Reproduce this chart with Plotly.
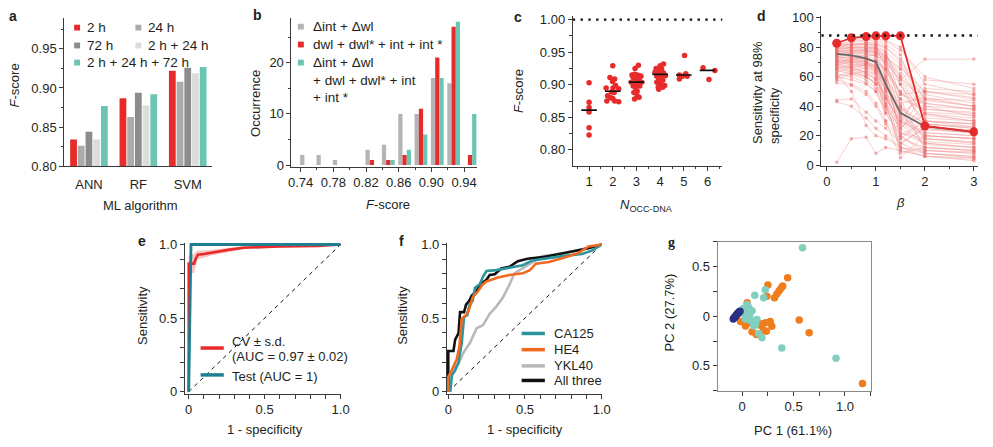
import plotly.graph_objects as go

W, H = 993, 447
FONT = "Liberation Sans, Arial, Helvetica, sans-serif"
SERIF = "Liberation Serif, Times New Roman, serif"
TXT = "#231f20"
AX = "#3a3a3a"

# ---------------- data ----------------
# a: F-score per ML algorithm and time point
algorithms = ["ANN", "RF", "SVM"]
a_names = ["2 h", "24 h", "72 h", "2 h + 24 h", "2 h + 24 h + 72 h"]
a_2h = [0.834, 0.887, 0.922]
a_24h = [0.826, 0.863, 0.908]
a_72h = [0.844, 0.894, 0.926]
a_2h_24h = [0.834, 0.878, 0.919]
a_all = [0.877, 0.892, 0.927]

# b: histogram of F-scores
b_bins = [0.74, 0.76, 0.78, 0.80, 0.82, 0.84, 0.86, 0.88, 0.90, 0.92, 0.94]
b_names = ["Δint + Δwl", "dwl + dwl* + int + int *",
           "Δint + Δwl<br>+ dwl + dwl* + int<br>+ int *"]
b_delta = [2, 2, 1, 0, 3, 4, 10, 10, 17, 16, 0]
b_raw = [0, 0, 0, 0, 1, 1, 2, 11, 21, 27, 2]
b_both = [0, 0, 0, 0, 0, 1, 3, 6, 17, 28, 10]

# c: F-score vs number of OCC-DNA
c_x = [1.0, 1.0, 1.0, 1.0, 1.0, 1.0,
       2.0, 1.88, 2.08, 1.99, 2.12, 1.72, 2.01, 2.25, 1.94, 2.06, 1.78, 1.75, 2.0, 2.08, 2.25, 1.92,
       3.08, 2.94, 2.81, 2.92, 3.03, 3.14, 3.19, 2.86, 3.0, 3.11, 2.78, 3.22, 2.94, 3.06, 2.86, 3.14,
       2.97, 3.03, 2.89, 3.03, 2.92, 3.11,
       4.14, 4.0, 3.83, 4.06, 3.92, 3.78, 4.14, 3.97, 4.22, 3.86, 4.06, 3.94, 4.11, 3.86, 4.03, 4.19,
       3.92, 4.11, 3.94,
       5.03, 4.81, 4.81, 5.08, 5.14, 4.94,
       5.81, 6.31, 6.06]
c_y = [0.903, 0.873, 0.865, 0.858, 0.834, 0.823,
       0.929, 0.911, 0.909, 0.905, 0.899, 0.895, 0.895, 0.894, 0.889, 0.888, 0.883, 0.875, 0.879,
       0.875, 0.874, 0.880,
       0.930, 0.925, 0.915, 0.916, 0.915, 0.914, 0.913, 0.911, 0.909, 0.907, 0.904, 0.904, 0.903,
       0.900, 0.898, 0.898, 0.895, 0.890, 0.888, 0.883, 0.878, 0.881,
       0.932, 0.929, 0.925, 0.924, 0.921, 0.919, 0.918, 0.915, 0.914, 0.913, 0.911, 0.909, 0.907,
       0.904, 0.901, 0.899, 0.896, 0.896, 0.893,
       0.945, 0.915, 0.909, 0.917, 0.913, 0.913,
       0.926, 0.922, 0.908]
c_groups = [1, 2, 3, 4, 5, 6]
c_median = [0.861, 0.890, 0.904, 0.916, 0.915, 0.922]
c_ref = 1.0

# d: sensitivity at 98% specificity vs beta
d_beta = [0.2, 0.5, 0.8, 1.0, 1.2, 1.5, 2, 3]
d_runs = [
    [75, 74, 72, 70, 60, 40, 25, 22], [80, 82, 83, 84, 80, 70, 45, 40],
    [70, 68, 65, 60, 45, 30, 20, 18], [65, 63, 60, 55, 40, 25, 15, 12],
    [78, 78, 77, 76, 72, 55, 35, 30], [72, 70, 68, 64, 52, 35, 22, 20],
    [60, 58, 55, 50, 35, 20, 10, 8], [82, 84, 85, 86, 85, 80, 55, 48],
    [68, 66, 62, 58, 48, 32, 18, 15], [76, 75, 73, 70, 65, 50, 30, 28],
    [44, 45, 36, 30, 25, 15, 8, 5], [2, 18, 19, 8, 12, 10, 6, 4],
    [62, 50, 27, 20, 18, 12, 10, 8], [74, 72, 70, 68, 58, 45, 38, 35],
    [79, 80, 80, 79, 75, 62, 40, 33], [58, 55, 50, 42, 30, 18, 12, 10],
    [70, 72, 74, 75, 70, 58, 72, 72], [73, 71, 69, 66, 55, 38, 28, 25],
    [77, 77, 76, 74, 68, 48, 50, 45], [66, 64, 60, 55, 42, 28, 58, 55],
    [80, 80, 79, 78, 72, 60, 42, 38], [71, 70, 67, 63, 50, 33, 20, 18],
    [64, 62, 58, 52, 38, 22, 15, 12], [43, 40, 32, 25, 20, 12, 6, 3],
    [75, 76, 76, 75, 70, 58, 32, 30], [69, 67, 63, 58, 45, 30, 52, 50],
    [81, 82, 82, 82, 80, 72, 48, 42], [62, 60, 56, 50, 36, 20, 8, 6],
    [78, 76, 74, 72, 65, 50, 35, 32], [67, 65, 61, 55, 40, 25, 40, 38],
    [73, 73, 72, 71, 66, 55, 28, 26], [76, 74, 71, 67, 55, 40, 18, 16],
    [56, 54, 48, 40, 28, 15, 25, 22], [70, 69, 66, 62, 52, 38, 12, 10],
    [82, 83, 84, 85, 82, 75, 30, 28], [74, 73, 70, 66, 54, 36, 45, 44],
    [60, 62, 60, 56, 46, 30, 22, 20], [79, 79, 78, 77, 73, 65, 38, 36],
    [68, 66, 63, 59, 47, 28, 14, 12], [77, 78, 78, 78, 74, 66, 50, 48],
    [84, 85, 86, 86, 84, 78, 60, 52], [72, 74, 75, 74, 60, 22, 18, 15],
    [66, 68, 69, 68, 50, 12, 8, 6], [78, 80, 81, 80, 66, 18, 30, 28],
    [60, 64, 66, 65, 45, 8, 12, 10], [74, 76, 77, 77, 70, 42, 46, 40],
    [70, 71, 70, 66, 30, 5, 20, 18], [80, 81, 82, 82, 76, 55, 24, 22],
    [63, 66, 68, 67, 56, 26, 34, 30], [76, 77, 78, 76, 62, 30, 16, 14],
    [68, 70, 71, 70, 64, 48, 42, 38], [82, 82, 83, 83, 78, 45, 10, 9],
    [58, 62, 64, 62, 40, 14, 26, 24], [75, 77, 79, 80, 74, 60, 36, 34],
    [71, 72, 72, 70, 58, 24, 50, 46], [79, 80, 80, 79, 68, 34, 20, 18],
    [65, 67, 68, 66, 52, 20, 30, 26], [77, 79, 80, 80, 77, 68, 44, 40],
    [69, 70, 69, 64, 42, 10, 6, 5], [81, 82, 82, 81, 72, 40, 28, 25],
]
d_mean = [75.5, 74.5, 72.5, 70, 55, 35.5, 26.3, 22.6]
d_best = [82.8, 86.5, 87.3, 87.8, 87.8, 87.8, 26.6, 22.6]
d_ref = 88

# e: ROC, cross-validation and test
e_fpr = [0, 0.0, 0.01, 0.035, 0.045, 0.06, 0.1, 0.15, 0.2, 0.27, 0.36, 0.45, 0.6, 0.85, 1.0]
e_tpr = [0, 0.87, 0.87, 0.87, 0.90, 0.93, 0.935, 0.945, 0.955, 0.965, 0.978, 0.983, 0.987, 0.99, 1.0]
e_sd = [0, 0.05, 0.06, 0.065, 0.05, 0.03, 0.025, 0.02, 0.018, 0.015, 0.01, 0.008, 0.006, 0.005, 0]
e_test_fpr = [0, 0.015, 1.0]
e_test_tpr = [0, 1.0, 1.0]
e_names = ["CV ± s.d.<br>(AUC = 0.97 ± 0.02)", "Test (AUC = 1)"]

# f: ROC of individual biomarkers
f_names = ["CA125", "HE4", "YKL40", "All three"]
f_ca125_x = [0.013, 0.024, 0.045, 0.067, 0.088, 0.103, 0.124, 0.137, 0.159, 0.174, 0.206, 0.227,
             0.249, 0.313, 0.399, 0.485, 0.549, 0.614, 0.742, 0.871, 0.936, 1.0]
f_ca125_y = [0.0, 0.112, 0.145, 0.200, 0.332, 0.508, 0.519, 0.585, 0.618, 0.705, 0.732, 0.782,
             0.820, 0.826, 0.842, 0.859, 0.892, 0.903, 0.921, 0.936, 0.958, 1.0]
f_he4_x = [0.0, 0.0, 0.017, 0.034, 0.056, 0.073, 0.088, 0.116, 0.137, 0.159, 0.195, 0.223, 0.249,
           0.324, 0.399, 0.485, 0.532, 0.571, 0.657, 0.764, 0.850, 0.914, 1.0]
f_he4_y = [0.0, 0.101, 0.134, 0.178, 0.222, 0.310, 0.497, 0.519, 0.563, 0.640, 0.684, 0.727, 0.749,
           0.776, 0.793, 0.804, 0.826, 0.870, 0.881, 0.914, 0.943, 0.987, 1.0]
f_ykl40_x = [0.0, 0.009, 0.034, 0.067, 0.099, 0.142, 0.185, 0.227, 0.270, 0.313, 0.356, 0.399,
             0.431, 0.485, 0.549, 0.614, 0.742, 0.871, 1.0]
f_ykl40_y = [0.0, 0.090, 0.156, 0.189, 0.266, 0.332, 0.431, 0.453, 0.530, 0.578, 0.640, 0.727,
             0.804, 0.837, 0.881, 0.921, 0.936, 0.969, 1.0]
f_all_x = [0.0, 0.0, 0.034, 0.045, 0.067, 0.077, 0.103, 0.116, 0.137, 0.152, 0.185, 0.206, 0.249,
           0.270, 0.303, 0.345, 0.399, 0.453, 0.517, 0.614, 0.721, 0.828, 0.914, 1.0]
f_all_y = [0.0, 0.277, 0.277, 0.354, 0.398, 0.541, 0.541, 0.591, 0.618, 0.651, 0.684, 0.727, 0.760,
           0.793, 0.798, 0.837, 0.848, 0.886, 0.903, 0.914, 0.936, 0.958, 0.974, 1.0]

# g: PCA scores
g_teal_x = [0.587, 0.224, 0.122, 0.208, 0.048, 0.064, 0.096, 0.016, 0.032, 0.080, 0.128, 0.144,
            0.112, 0.160, 0.192, 0.385, 0.913, 0.048, 0.074, 0.010]
g_teal_y = [0.690, 0.267, 0.212, 0.186, 0.120, 0.088, 0.055, 0.023, -0.026, -0.042, -0.085, -0.033,
            -0.098, -0.173, -0.215, -0.319, -0.423, 0.046, 0.007, 0.078]
g_orange_x = [0.442, 0.394, 0.378, 0.359, 0.337, 0.314, 0.250, 0.240, 0.048, 0.554, 0.651, 1.170,
              0.192, 0.224, 0.272, 0.288, 0.208, 0.234, 0.096, 0.138, 0.032, -0.016, 0.176, 0.074]
g_orange_y = [0.388, 0.306, 0.283, 0.257, 0.225, 0.186, 0.316, 0.202, 0.137, -0.036, -0.166, -0.678,
              -0.075, -0.065, -0.052, -0.101, -0.140, -0.150, -0.156, -0.182, -0.098, -0.052, -0.091,
              -0.065]
g_navy_x = [-0.087, -0.080, -0.074, -0.067, -0.061, -0.054, -0.048, -0.041, -0.035, -0.028, -0.022]
g_navy_y = [-0.026, -0.018, -0.010, -0.002, 0.006, 0.015, 0.023, 0.031, 0.039, 0.045, 0.052]

# ---------------- styles ----------------
RED = "#e62b2a"
TEAL = "#6cc5b3"
a_colors = [RED, "#acacac", "#8c8c8c", "#dcdcdc", TEAL]
b_colors = ["#b4b4b4", RED, TEAL]
f_colors = ["#2a959c", "#f26a21", "#b9b9b9", "#111111"]
TEST = "#1f7f90"


def X(p):
    return p / W


def Y(p):
    return 1 - p / H


def dx(a, b):
    return [X(a), X(b)]


def dy(top, bot):
    return [Y(bot), Y(top)]


def axis(dom, rng, anchor, **kw):
    d = dict(domain=dom, range=rng, anchor=anchor, showline=True, linecolor=AX, linewidth=1,
             ticks="outside", ticklen=4, tickwidth=1, tickcolor=AX, showgrid=False,
             zeroline=False, tickfont=dict(family=FONT, size=13, color=TXT), fixedrange=True)
    d.update(kw)
    return d


def minor(dt, t0=0, ln=2.5):
    return dict(ticks="outside", ticklen=ln, tickwidth=1, tickcolor=AX, dtick=dt, tick0=t0)


fig = go.Figure()

# ---- a
for name, vals, col in zip(a_names, [a_2h, a_24h, a_72h, a_2h_24h, a_all], a_colors):
    fig.add_trace(go.Bar(x=algorithms, y=vals, name=name, marker=dict(color=col, line_width=0),
                         xaxis="x", yaxis="y"))

# ---- b
b_offsets = [-0.0006, 0.0046, 0.0098]
for name, vals, col, off in zip(b_names, [b_delta, b_raw, b_both], b_colors, b_offsets):
    fig.add_trace(go.Bar(x=b_bins, y=vals, name=name, width=0.0052, offset=off,
                         marker=dict(color=col, line_width=0), xaxis="x2", yaxis="y2"))

# ---- c
fig.add_trace(go.Scatter(x=[0.31, 6.63], y=[c_ref, c_ref], mode="lines",
                         line=dict(color="#111", width=2.4, dash="2.4px,5.4px"),
                         xaxis="x3", yaxis="y3"))
fig.add_trace(go.Scatter(x=c_x, y=c_y, mode="markers", marker=dict(color=RED, size=5.5),
                         xaxis="x3", yaxis="y3"))
mx, my = [], []
for g, m in zip(c_groups, c_median):
    mx += [g - 0.33, g + 0.33, None]
    my += [m, m, None]
fig.add_trace(go.Scatter(x=mx, y=my, mode="lines", line=dict(color="#111", width=1.6),
                         xaxis="x3", yaxis="y3"))

# ---- d
for run in d_runs:
    fig.add_trace(go.Scatter(x=d_beta, y=run, mode="lines+markers",
                             line=dict(color="rgba(240,150,150,0.45)", width=1),
                             marker=dict(color="rgba(235,110,110,0.55)", size=3, symbol="square"),
                             xaxis="x4", yaxis="y4"))
fig.add_trace(go.Scatter(x=d_beta, y=d_mean, mode="lines", line=dict(color="#6a6a6a", width=1.8),
                         xaxis="x4", yaxis="y4"))
fig.add_trace(go.Scatter(x=d_beta, y=d_best, mode="lines+markers", line=dict(color=RED, width=1.8),
                         marker=dict(color=RED, size=9), xaxis="x4", yaxis="y4"))
fig.add_trace(go.Scatter(x=[-0.115, 3.08], y=[d_ref, d_ref], mode="lines",
                         line=dict(color="#111", width=2.4, dash="2.4px,5.4px"),
                         xaxis="x4", yaxis="y4"))

# ---- e
upper = [min(1.0, t + s) for t, s in zip(e_tpr, e_sd)]
lower = [max(0.0, t - s) for t, s in zip(e_tpr, e_sd)]
fig.add_trace(go.Scatter(x=e_fpr + e_fpr[::-1], y=upper + lower[::-1], mode="lines", fill="toself",
                         fillcolor="rgba(236,90,90,0.35)", line=dict(width=0),
                         xaxis="x5", yaxis="y5"))
fig.add_trace(go.Scatter(x=[0, 1], y=[0, 1], mode="lines",
                         line=dict(color="#111", width=1, dash="4px,4px"), xaxis="x5", yaxis="y5"))
fig.add_trace(go.Scatter(x=e_fpr, y=e_tpr, mode="lines", line=dict(color=RED, width=2.6),
                         xaxis="x5", yaxis="y5"))
fig.add_trace(go.Scatter(x=e_test_fpr, y=e_test_tpr, mode="lines", line=dict(color=TEST, width=2.8),
                         xaxis="x5", yaxis="y5"))

# ---- f
fig.add_trace(go.Scatter(x=[0, 1], y=[0, 1], mode="lines",
                         line=dict(color="#111", width=1, dash="4px,4px"), xaxis="x6", yaxis="y6"))
for xs, ys, col in zip([f_ykl40_x, f_all_x, f_ca125_x, f_he4_x],
                       [f_ykl40_y, f_all_y, f_ca125_y, f_he4_y],
                       [f_colors[2], f_colors[3], f_colors[0], f_colors[1]]):
    fig.add_trace(go.Scatter(x=xs, y=ys, mode="lines", line=dict(color=col, width=2.6),
                             xaxis="x6", yaxis="y6"))

# ---- g
for xs, ys, col in [(g_orange_x, g_orange_y, "#f07d1c"), (g_teal_x, g_teal_y, "#82cfc0"),
                    (g_navy_x, g_navy_y, "#2b2f85")]:
    fig.add_trace(go.Scatter(x=xs, y=ys, mode="markers", marker=dict(color=col, size=7.5),
                             xaxis="x7", yaxis="y7"))

# ---------------- axes ----------------
fig.update_layout(
    width=W, height=H, margin=dict(l=0, r=0, t=0, b=0), showlegend=False,
    paper_bgcolor="white", plot_bgcolor="white", barmode="group", bargap=0.22, bargroupgap=0.12,
    font=dict(family=FONT, size=13, color=TXT),
    xaxis=axis(dx(62, 212), None, "y", type="category", ticks="", ticklabelstandoff=6),
    yaxis=axis(dy(13, 166), [0.80, 0.99], "x", tickvals=[0.80, 0.85, 0.90, 0.95], tickformat=".2f",
               minor=minor(0.025, 0.8)),
    xaxis2=axis(dx(292, 480), [0.7288, 0.956], "y2", tickvals=[0.74, 0.78, 0.82, 0.86, 0.90, 0.94],
                tickformat=".2f", minor=minor(0.02, 0.74)),
    yaxis2=axis(dy(13, 166.5), [-0.3, 28.8], "x2", tickvals=[0, 10, 20], minor=minor(5, 0)),
    xaxis3=axis(dx(576.7, 728.3), [0.31, 6.63], "y3", tickvals=[1, 2, 3, 4, 5, 6],
                minor=minor(0.5, 0.5)),
    yaxis3=axis(dy(11, 165.7), [0.7755, 1.006], "x3", tickvals=[0.80, 0.85, 0.90, 0.95, 1.00],
                tickformat=".2f", minor=minor(0.025, 0.8)),
    xaxis4=axis(dx(828.3, 986.7), [-0.115, 3.08], "y4", tickvals=[0, 1, 2, 3], minor=minor(0.5, 0)),
    yaxis4=axis(dy(11, 165.7), [-0.5, 101.5], "x4", tickvals=[0, 20, 40, 60, 80, 100],
                minor=minor(10, 0)),
    xaxis5=axis(dx(184, 342), [-0.026, 1.002], "y5", tickvals=[0, 0.5, 1.0],
                ticktext=["0", "0.5", "1.0"], minor=minor(0.1, 0, 4)),
    yaxis5=axis(dy(244.7, 400.3), [-0.013, 1.013], "x5", tickvals=[0, 0.5, 1.0],
                ticktext=["0", "0.5", "1.0"], minor=minor(0.1, 0, 4)),
    xaxis6=axis(dx(449.3, 606.5), [-0.009, 1.003], "y6", tickvals=[0, 0.5, 1.0],
                ticktext=["0", "0.5", "1.0"], minor=minor(0.1, 0, 4)),
    yaxis6=axis(dy(244.7, 400.3), [-0.013, 1.013], "x6", tickvals=[0, 0.5, 1.0],
                ticktext=["0", "0.5", "1.0"], minor=minor(0.1, 0, 4)),
    xaxis7=axis(dx(723.3, 878.3), [-0.24, 1.25], "y7", tickvals=[0, 0.5, 1.0],
                ticktext=["0", "0.5", "1.0"], minor=minor(0.25, 0, 4), mirror=True,
                linecolor="#8a8a8a"),
    yaxis7=axis(dy(244, 397.3), [-0.75, 0.75], "x7", tickvals=[-0.5, 0, 0.5],
                ticktext=["0.5", "0", "0.5"], minor=minor(0.25, 0, 4), mirror=True,
                linecolor="#8a8a8a"),
)

# ---------------- text ----------------
def ann(text, x, y, size=13, angle=0, xa="center", ya="middle", family=FONT, color=TXT):
    fig.add_annotation(text=text, x=X(x), y=Y(y), xref="paper", yref="paper", showarrow=False,
                       font=dict(family=family, size=size, color=color), textangle=angle,
                       xanchor=xa, yanchor=ya, align="left")


# panel letters
for letter, x, y, fam in [("a", 4, 11, FONT), ("b", 251, 10, FONT), ("c", 515, 12, FONT),
                          ("d", 761, 11, FONT), ("e", 135, 243, FONT), ("f", 399, 243, FONT),
                          ("g", 671, 245, SERIF)]:
    ann("<b>%s</b>" % letter, x, y, size=14, xa="left", family=fam)

# axis titles
ann("<i>F</i>-score", 12, 83, angle=-90)
ann("ML algorithm", 139, 207)
ann("Occurrence", 255, 101, angle=-90)
ann("<i>F</i>-score", 390, 205)
ann("<i>F</i>-score", 522, 89, angle=-90)
ann("<i>N</i><sub>OCC-DNA</sub>", 651, 207)
ann("Sensitivity at 98%<br>specificity", 773, 90, angle=-90)
ann("<i>β</i>", 908, 203)
ann("Sensitivity", 141, 320, angle=-90)
ann("1 - specificity", 265, 437)
ann("Sensitivity", 405, 320, angle=-90)
ann("1 - specificity", 528, 437)
ann("PC 2 (27.7%)", 675, 317, angle=-90)
ann("PC 1 (61.1%)", 800, 438)

LEG = 13.5
# legend a (two columns)
a_leg_pos = [(75, 23.3), (137, 23.3), (75, 41.7), (137, 41.7), (75, 59.3)]
for name, col, (lx, ly) in zip(a_names, a_colors, a_leg_pos):
    fig.add_shape(type="rect", xref="paper", yref="paper", x0=X(lx - 3), x1=X(lx + 3),
                  y0=Y(ly + 3), y1=Y(ly - 3), fillcolor=col, line_width=0)
    ann(name, lx + 8, ly, size=LEG, xa="left")

# legend b
b_leg_y = [22.3, 40.7, 59.3]
for name, col, ly in zip(b_names, b_colors, b_leg_y):
    fig.add_shape(type="rect", xref="paper", yref="paper", x0=X(298.5), x1=X(304.5),
                  y0=Y(ly + 3), y1=Y(ly - 3), fillcolor=col, line_width=0)
    n_lines = name.count("<br>") + 1
    ann(name, 312, ly + (n_lines - 1) * LEG * 1.3 / 2, size=LEG, xa="left")

# legend e
for name, col, ly, ty in zip(e_names, [RED, TEST], [353.3, 381], [346.7, 382.3]):
    fig.add_shape(type="line", xref="paper", yref="paper", x0=X(200), x1=X(223.5),
                  y0=Y(ly), y1=Y(ly), line=dict(color=col, width=3.5))
    for i, line in enumerate(name.split("<br>")):
        ann(line, 230, ty + i * 15, xa="left")

# legend f
for name, col, ly in zip(f_names, f_colors, [338.3, 355, 371.7, 386.7]):
    fig.add_shape(type="line", xref="paper", yref="paper", x0=X(525), x1=X(548.5),
                  y0=Y(ly), y1=Y(ly), line=dict(color=col, width=3.5))
    ann(name, 556, ly, xa="left")

fig.write_html("out.html", config={"displayModeBar": False},
               post_script="document.body.style.margin='0px';")
